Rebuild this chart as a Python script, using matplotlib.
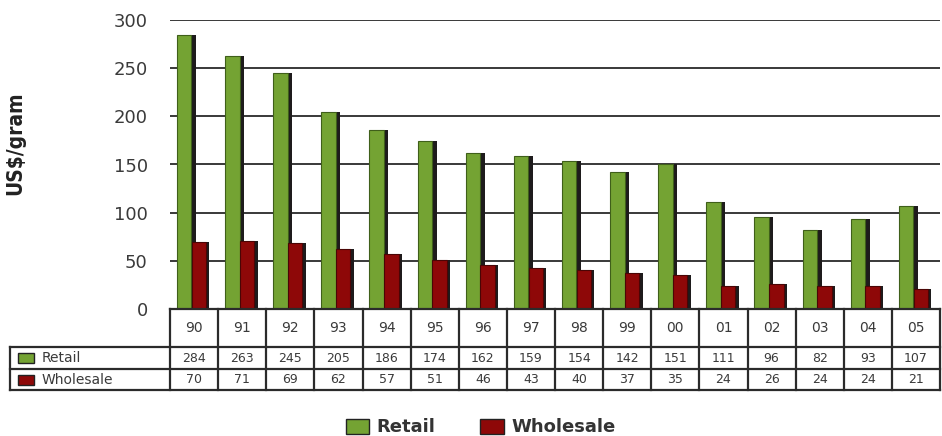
import matplotlib
matplotlib.use('Agg')
import matplotlib.pyplot as plt
from matplotlib.patches import Patch
import numpy as np

YEARS = ['90', '91', '92', '93', '94', '95', '96', '97', '98', '99',
         '00', '01', '02', '03', '04', '05']
RETAIL = [284, 263, 245, 205, 186, 174, 162, 159, 154, 142, 151, 111, 96, 82, 93, 107]
WHOLESALE = [70, 71, 69, 62, 57, 51, 46, 43, 40, 37, 35, 24, 26, 24, 24, 21]

GREEN = '#74a333'
RED = '#8e0808'
SHADOW = '#1e1b1c'
GRID = '#2a2a2a'
TEXT = '#3a3a3a'

fig = plt.figure(figsize=(9.42, 4.36), dpi=100)
ax = fig.add_axes([170 / 942, 1 - 309 / 436, 770 / 942, 289 / 436])

x = np.arange(len(YEARS))
bw = 0.30
# fake 3d look: a dark copy of each bar pushed a little to the right
ax.bar(x - 0.205 + 0.095, RETAIL, bw, color=SHADOW, zorder=2)
ax.bar(x - 0.205, RETAIL, bw, color=GREEN, edgecolor='#3f5f1a', linewidth=0.8, zorder=3)
ax.bar(x + 0.10 + 0.07, WHOLESALE, bw, color=SHADOW, zorder=4)
ax.bar(x + 0.10, WHOLESALE, bw, color=RED, edgecolor='#4a0505', linewidth=0.8, zorder=5)

ax.set_xlim(-0.5, len(YEARS) - 0.5)
ax.set_ylim(0, 300)
ax.set_yticks(range(0, 301, 50))
ax.yaxis.grid(True, color=GRID, linewidth=1.3, zorder=1)
ax.set_axisbelow(True)
ax.tick_params(axis='y', length=0, pad=16, labelsize=13, labelcolor=TEXT)
ax.tick_params(axis='x', length=0, labelbottom=False)
for s in ax.spines.values():
    s.set_visible(False)
ax.set_ylabel('US$/gram', fontsize=15, fontweight='bold', fontstretch='condensed',
              color='#222222')
ax.yaxis.set_label_coords(-0.188, 0.575)

# data table under the bars
tax = fig.add_axes([170 / 942, 1 - 391 / 436, 770 / 942, 82 / 436], sharex=ax)
tax.set_ylim(82, 0)
tax.axis('off')
lc = dict(color='#2b2b2b', linewidth=1.6, clip_on=False)
left = -0.5 - 160 / 48
rows = [0, 38, 60, 81]
for i in range(len(YEARS) + 1):
    tax.plot([i - 0.5, i - 0.5], [0, 81], **lc)
tax.plot([-0.5, len(YEARS) - 0.5], [0, 0], **lc)
for r in rows[1:]:
    tax.plot([left, len(YEARS) - 0.5], [r, r], **lc)
tax.plot([left, left], [38, 81], **lc)

for i, yr in enumerate(YEARS):
    tax.text(i, 19, yr, ha='center', va='center', fontsize=10, color=TEXT)
    tax.text(i, 49, str(RETAIL[i]), ha='center', va='center', fontsize=9, color=TEXT)
    tax.text(i, 70.5, str(WHOLESALE[i]), ha='center', va='center', fontsize=9, color=TEXT)

key_x = left + 8 / 48
for (yy, col, name) in [(49, GREEN, 'Retail'), (70.5, RED, 'Wholesale')]:
    tax.add_patch(plt.Rectangle((key_x, yy - 5), 16 / 48, 10, facecolor=col,
                                edgecolor='#222222', linewidth=1.0, clip_on=False))
    tax.text(key_x + 24 / 48, yy, name, ha='left', va='center', fontsize=10, color=TEXT)

handles = [Patch(facecolor=GREEN, edgecolor='#222222', label='Retail'),
           Patch(facecolor=RED, edgecolor='#222222', label='Wholesale')]
fig.legend(handles=handles, loc='center', bbox_to_anchor=(0.51, 0.02), ncol=2,
           frameon=False, prop={'size': 13, 'weight': 'bold'}, handlelength=1.3,
           handleheight=0.9, columnspacing=2.5, handletextpad=0.4, labelcolor='#333333',
           borderpad=0.1)

fig.savefig('out.png', dpi=100)
